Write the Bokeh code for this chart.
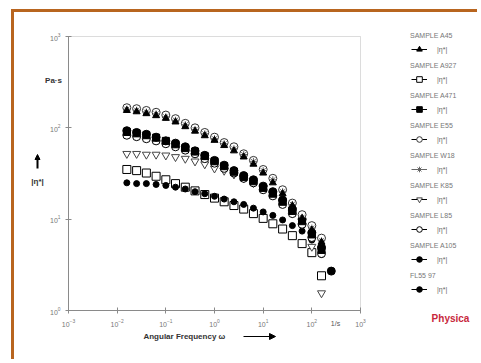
import math
from bokeh.plotting import figure
from bokeh.models import (Legend, LegendItem, Label, Arrow, NormalHead, LogAxis,
                          BoxAnnotation, FixedTicker)
from bokeh.embed import file_html
from bokeh.resources import INLINE

# ---- data ----
freq = [0.0158, 0.0251, 0.0398, 0.0631, 0.1, 0.158, 0.251, 0.398, 0.631, 1.0,
        1.58, 2.51, 3.98, 6.31, 10.0, 15.8, 25.1, 39.8, 63.1, 100.0, 158.0, 251.0]

eta_A45 = [155, 150, 143, 136, 127, 116, 103, 92, 82, 73, 64, 56, 48, 40, 32, 25, 19, 14, 10.2, 7.6, 5.6]
eta_A927 = [35, 34, 32, 29.5, 27, 24.5, 22.4, 20.4, 18.6, 17.0, 15.5, 14.1, 12.9, 11.5, 10.2, 8.9, 7.8, 6.6, 5.4, 4.3, 2.4]
eta_A471 = [90, 87, 83, 78, 72, 66, 60, 55, 49, 43, 38, 33, 29, 26, 22, 19, 15.5, 12.3, 9.5, 6.8, 4.6]
eta_E55 = [166, 162, 155, 148, 138, 126, 112, 100, 89, 79, 69, 62, 52, 44, 35, 28, 21, 15, 11.2, 8.5, 6.2]
eta_W18 = [160, 156, 149, 142, 132, 121, 108, 96, 86, 76, 67, 59, 51, 43, 34, 27, 20, 14.5, 10.5, 8.0, 5.8]
eta_K85 = [52, 52, 51, 51, 50, 48, 46, 43, 40, 36, 34, 31, 28, 25, 22, 18.6, 15.1, 11.7, 8.5, 5.0, 1.55]
eta_L85 = [83, 80, 76, 72, 67, 62, 57, 52, 46, 41, 36, 32, 28, 25, 21, 18, 14.5, 11.5, 8.8, 6.3, 4.2]
eta_A105 = [93, 89, 85, 79, 72, 68, 62, 56, 50, 44, 39, 34, 30, 27, 23, 20, 16.2, 12.9, 10.0, 7.1, 4.9, 2.7]
eta_FL55 = [25, 24.5, 24.5, 24, 23.4, 22.4, 21.4, 20, 19, 17.8, 16.6, 15.5, 14.5, 13.2, 12.0, 11.0, 9.8, 8.5, 7.4, 5.9, 4.1]

sample_names = ["SAMPLE A45", "SAMPLE A927", "SAMPLE A471", "SAMPLE E55", "SAMPLE W18",
                "SAMPLE K85", "SAMPLE L85", "SAMPLE A105", "FL55 97"]
series_values = [eta_A45, eta_A927, eta_A471, eta_E55, eta_W18, eta_K85, eta_L85, eta_A105, eta_FL55]
x_ticks = [1e-3, 1e-2, 1e-1, 1e0, 1e1, 1e2, 1e3]
y_ticks = [1e0, 1e1, 1e2, 1e3]
x_lim = (1e-3, 1e3)
y_lim = (1e0, 1e3)

# ---- styles ----
styles = [
    dict(marker="triangle", size=7, fill_color="black", line_color="black"),
    dict(marker="square", size=8, fill_color="white", line_color="black"),
    dict(marker="square", size=7, fill_color="black", line_color="black"),
    dict(marker="circle", size=8, fill_color="white", line_color="#333333"),
    dict(marker="asterisk", size=7, fill_color="#666666", line_color="#666666"),
    dict(marker="inverted_triangle", size=8, fill_color="white", line_color="#444444"),
    dict(marker="circle", size=8, fill_color="white", line_color="black"),
    dict(marker="circle", size=8, fill_color="black", line_color="black"),
    dict(marker="circle", size=6, fill_color="black", line_color="black"),
]
draw_order = [1, 5, 8, 6, 2, 7, 3, 4, 0]

FONT = "Liberation Sans"
W, H = 466, 350
# canvas origin in page pixels, and the plot box in page pixels
OX, OY = 14, 12
BOX_L, BOX_R, BOX_T, BOX_B = 68, 360, 36, 310

# frame covers the whole canvas; ranges are extended so the box lands where it should
lx0, lx1 = math.log10(x_lim[0]), math.log10(x_lim[1])
ly0, ly1 = math.log10(y_lim[0]), math.log10(y_lim[1])
dx = (BOX_R - BOX_L) / (lx1 - lx0)
dy = (BOX_B - BOX_T) / (ly1 - ly0)
xr = (10 ** (lx0 - (BOX_L - OX) / dx), 10 ** (lx1 + (OX + W - BOX_R) / dx))
yr = (10 ** (ly0 - (OY + H - BOX_B) / dy), 10 ** (ly1 + (BOX_T - OY) / dy))

p = figure(width=W, height=H, x_axis_type="log", y_axis_type="log",
           x_range=xr, y_range=yr, x_axis_location=None, y_axis_location=None,
           output_backend="svg", toolbar_location=None,
           min_border_left=0, min_border_right=0, min_border_top=0, min_border_bottom=0)
p.styles = {"border-top": "3px solid #b8651f", "border-left": "3px solid #b8651f",
            "margin-left": "11px", "margin-top": "9px"}
p.grid.visible = False
p.outline_line_color = None

# the plot box
p.add_layout(BoxAnnotation(left=x_lim[0], right=x_lim[1], bottom=y_lim[0], top=y_lim[1],
                           fill_alpha=0, line_color="#8a8a8a", line_width=1))

xaxis = LogAxis(fixed_location=y_lim[0], bounds=x_lim, ticker=FixedTicker(ticks=x_ticks))
yaxis = LogAxis(fixed_location=x_lim[0], bounds=y_lim, ticker=FixedTicker(ticks=y_ticks))
for ax in (xaxis, yaxis):
    ax.axis_line_color = "#8a8a8a"
    ax.major_tick_line_color = "#8a8a8a"
    ax.minor_tick_line_color = None
    ax.major_tick_in = 3
    ax.major_tick_out = 3
    ax.major_label_text_font = FONT
    ax.major_label_text_font_size = "7px"
    ax.major_label_text_color = "#777777"
    ax.major_label_standoff = 5
p.add_layout(xaxis, "below")
p.add_layout(yaxis, "left")

renderers = [None] * len(series_values)
for i in draw_order:
    vals = series_values[i]
    st = styles[i]
    renderers[i] = p.scatter(x=freq[:len(vals)], y=vals, marker=st["marker"], size=st["size"],
                             fill_color=st["fill_color"], line_color=st["line_color"], line_width=1)

# legend helpers (draw nothing in the plot)
nan = float("nan")
dummy = p.scatter(x=[nan], y=[nan], size=1, alpha=0)
line_black = p.line(x=[nan, nan], y=[nan, nan], line_color="black", line_width=1)
line_gray = p.line(x=[nan, nan], y=[nan, nan], line_color="#666666", line_width=1)

items_a = [LegendItem(label=n, renderers=[dummy]) for n in sample_names]
items_b = [LegendItem(label="|η*|",
                      renderers=[line_gray if i == 4 else line_black, renderers[i]])
           for i in range(len(sample_names))]

def sx(px):
    return px - OX

def sy(py):
    return OY + H - py

leg_a = Legend(items=items_a, location=(sx(410), sy(282)), glyph_width=0, glyph_height=14,
               label_height=14, label_standoff=0, spacing=16, padding=0, margin=0,
               label_text_font=FONT, label_text_font_size="7px", label_text_color="#777777",
               border_line_alpha=0, background_fill_alpha=0)
leg_b = Legend(items=items_b, location=(sx(411), sy(296)), glyph_width=16, glyph_height=14,
               label_height=14, label_standoff=10, spacing=16, padding=0, margin=0,
               label_text_font=FONT, label_text_font_size="7px", label_text_color="#666666",
               border_line_alpha=0, background_fill_alpha=0)
p.add_layout(leg_a)
p.add_layout(leg_b)

def label(px, py, text, size="8px", bold=False, color="#333333", align="center"):
    p.add_layout(Label(x=sx(px), y=sy(py), x_units="screen", y_units="screen", text=text,
                       text_font=FONT, text_font_size=size,
                       text_font_style="bold" if bold else "normal",
                       text_color=color, text_align=align, text_baseline="middle"))

label(53, 80, "Pa·s", bold=True)
label(37, 181, "|η*|", bold=True)
p.add_layout(Arrow(end=NormalHead(size=5, fill_color="black", line_color="black"),
                   x_start=sx(37), y_start=sy(168), x_end=sx(37), y_end=sy(154),
                   start_units="screen", end_units="screen", line_width=2, line_color="black"))
label(185, 336, "Angular Frequency  ω", bold=True)
p.add_layout(Arrow(end=NormalHead(size=6, fill_color="black", line_color="black"),
                   x_start=sx(243), y_start=sy(336), x_end=sx(275), y_end=sy(336),
                   start_units="screen", end_units="screen", line_width=1, line_color="black"))
label(335, 323, "1/s", size="7px", color="#555555")
label(450, 318, "Physica", size="10px", bold=True, color="#c8283c")

open("out.html", "w").write(file_html(p, INLINE))
